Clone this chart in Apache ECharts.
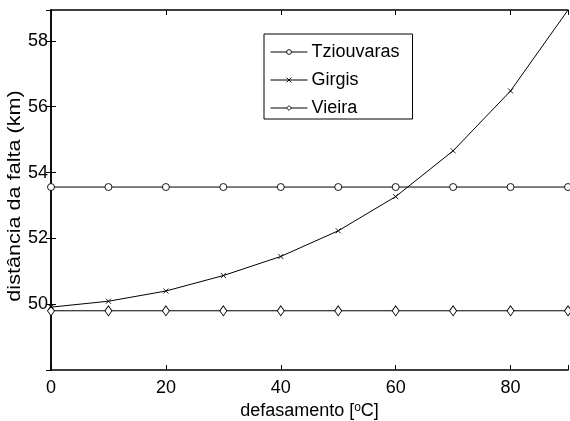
<!DOCTYPE html>
<html>
<head>
<meta charset="utf-8">
<script src="https://cdn.jsdelivr.net/npm/echarts@6/dist/echarts.min.js"></script>
<style>
  html, body { margin: 0; padding: 0; background: #fff; }
  #chart { width: 570px; height: 421px; }
</style>
</head>
<body>
<div id="chart"></div>
<script>
// phase shift (degrees) and estimated fault distance (km) for each method
var phaseShift = [0, 10, 20, 30, 40, 50, 60, 70, 80, 90];
var tziouvaras = [53.56, 53.56, 53.56, 53.56, 53.56, 53.56, 53.56, 53.56, 53.56, 53.56];
var girgis     = [49.91, 50.09, 50.40, 50.87, 51.45, 52.23, 53.27, 54.66, 56.48, 58.94];
var vieira     = [49.80, 49.80, 49.80, 49.80, 49.80, 49.80, 49.80, 49.80, 49.80, 49.80];
var xTicks = [0, 20, 40, 60, 80];
var yTicks = [50, 52, 54, 56, 58];
var yRange = [48, 58.94];

var FONT = '"Liberation Sans", Arial, sans-serif';

function pairs(ys) {
  return phaseShift.map(function (x, i) { return [x, ys[i]]; });
}

var girgisData = pairs(girgis).map(function (p, i) {
  // the last point sits on the plot corner, where the marker is cut off
  return i === phaseShift.length - 1 ? { value: p, symbol: 'none' } : p;
});

var baseLine = { color: '#000', width: 1 };
var markStyle = { color: '#fff', borderColor: '#000', borderWidth: 0.9 };
var tickStyle = { show: true, inside: true, length: 5, lineStyle: { color: '#000', width: 1 } };

var chart = echarts.init(document.getElementById('chart'), null, { renderer: 'canvas' });

chart.setOption({
  animation: false,
  backgroundColor: '#fff',
  textStyle: { fontFamily: FONT },
  grid: { left: 51, right: 2, top: 10, bottom: 51, containLabel: false, outerBoundsMode: 'none' },
  // y-axis title, drawn as a rotated, slightly widened text
  graphic: [{
    type: 'text',
    x: 15, y: 196,
    rotation: Math.PI / 2,
    scaleX: 1.2,
    silent: true,
    style: {
      text: 'distância da falta (km)',
      font: '18px ' + FONT,
      fill: '#000',
      align: 'center',
      verticalAlign: 'middle'
    }
  }],
  legend: {
    orient: 'vertical',
    left: 264,
    top: 34,
    padding: [9, 13, 2, 6],
    borderColor: '#000',
    borderWidth: 1,
    backgroundColor: '#fff',
    itemWidth: 37,
    itemHeight: 6,
    itemGap: 10,
    itemStyle: { borderWidth: 0.9 },
    lineStyle: { width: 1 },
    textStyle: { fontFamily: FONT, fontSize: 18, color: '#000', lineHeight: 18, padding: [0, 0, 0, -1] },
    data: ['Tziouvaras', 'Girgis', 'Vieira']
  },
  xAxis: [
    {
      type: 'value', min: 0, max: 90, interval: 20,
      name: 'defasamento [{sup|o}C]',
      nameLocation: 'middle', nameGap: 27,
      nameTextStyle: {
        fontFamily: FONT, fontSize: 18, color: '#000',
        rich: { sup: { fontFamily: FONT, fontSize: 12, color: '#000', verticalAlign: 'top', padding: [0, 0, 7, 0] } }
      },
      axisLine: { show: true, lineStyle: { color: '#000', width: 1.5 } },
      axisTick: tickStyle,
      splitLine: { show: false },
      axisLabel: {
        color: '#000', fontFamily: FONT, fontSize: 18, margin: 9,
        formatter: function (v) { return xTicks.indexOf(v) >= 0 ? String(v) : ''; }
      }
    },
    {
      type: 'value', min: 0, max: 90, interval: 20, position: 'top',
      axisLine: { show: true, lineStyle: { color: '#000', width: 1.5 } },
      axisTick: tickStyle,
      axisLabel: { show: false },
      splitLine: { show: false }
    }
  ],
  yAxis: [
    {
      type: 'value', min: yRange[0], max: yRange[1], interval: 2,
      axisLine: { show: true, lineStyle: { color: '#000', width: 1.5 } },
      axisTick: tickStyle,
      splitLine: { show: false },
      axisLabel: {
        color: '#000', fontFamily: FONT, fontSize: 18, margin: 3,
        showMinLabel: false, showMaxLabel: false,
        formatter: function (v) { return yTicks.indexOf(v) >= 0 ? String(v) : ''; }
      }
    },
    {
      type: 'value', min: yRange[0], max: yRange[1], interval: 2, position: 'right',
      axisLine: { show: true, lineStyle: { color: '#000', width: 1.5 } },
      axisTick: tickStyle,
      axisLabel: { show: false },
      splitLine: { show: false }
    }
  ],
  series: [
    {
      name: 'Tziouvaras', type: 'line', data: pairs(tziouvaras),
      symbol: 'circle', symbolSize: 7, showAllSymbol: true,
      lineStyle: baseLine, itemStyle: markStyle,
      clip: false, z: 3
    },
    {
      name: 'Girgis', type: 'line', data: girgisData,
      symbol: 'path://M0,0L10,10M10,0L0,10', symbolSize: 5, showAllSymbol: true,
      lineStyle: baseLine, itemStyle: markStyle,
      clip: false, z: 4
    },
    {
      name: 'Vieira', type: 'line', data: pairs(vieira),
      symbol: 'diamond', symbolSize: [7, 10], showAllSymbol: true,
      lineStyle: baseLine, itemStyle: markStyle,
      clip: false, z: 3
    }
  ]
});
</script>
</body>
</html>
